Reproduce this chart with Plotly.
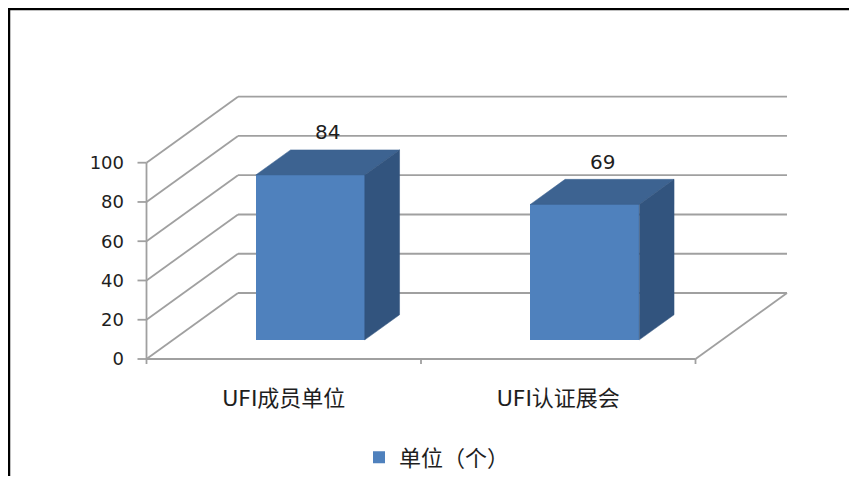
import plotly.graph_objects as go

# ---------------- data ----------------
CATEGORIES = ["UFI成员单位", "UFI认证展会"]
VALUES = [84, 69]
SERIES_NAME = "单位（个）"
Y_TICKS = [0, 20, 40, 60, 80, 100]
LABELS = ["84", "69"]

# ---------------- geometry / style ----------------
# the page body has an 8px margin, so the figure is sized to fit the window exactly
OFF = 8
W, H = 857 - 2 * OFF, 484 - 2 * OFF
ML, MT = 137 - OFF, 95 - OFF
PW, PH = 653, 270
MR, MB = W - ML - PW, H - MT - PH
CAT_PX = 274.5          # px per category on the front plane
PXU = 1.963             # px per value unit
DX = 91.5 / CAT_PX      # depth offset in x units
DY = 66.0 / PXU         # depth offset in y units
F1, F2 = 0.29, 0.67     # bar front / back depth fractions
FM = (F1 + F2) / 2
BAR_W = 0.397
FRONT_X0 = 146.5 - OFF  # px of x=-0.5 (front axis)
FRONT_Y0 = 359.0 - OFF  # px of y=0 (front)

x0 = -0.5 - (FRONT_X0 - ML) / CAT_PX
x1 = x0 + PW / CAT_PX
y0 = -((H - MB) - FRONT_Y0) / PXU
y1 = y0 + PH / PXU

FRONT = "#4F81BD"
TOP = "#3D6391"
SIDE = "#32547E"
GRID = "#A0A0A0"
FONT = "DejaVu Sans, Noto Sans CJK SC, sans-serif"
TXT = "#1E1E1E"

fig = go.Figure()

# front faces as real bars
fig.add_trace(go.Bar(
    x=[i + F1 * DX for i in range(len(VALUES))],
    y=VALUES,
    base=[F1 * DY] * len(VALUES),
    width=BAR_W,
    marker=dict(color=FRONT, line=dict(width=0)),
    name=SERIES_NAME,
    showlegend=True,
    hoverinfo="skip",
))

dd_x = (F2 - F1) * DX
dd_y = (F2 - F1) * DY
for i, v in enumerate(VALUES):
    cx = i + F1 * DX
    xl, xr = cx - BAR_W / 2, cx + BAR_W / 2
    base = F1 * DY
    top = base + v
    # top face
    fig.add_trace(go.Scatter(
        x=[xl, xr, xr + dd_x, xl + dd_x, xl],
        y=[top, top, top + dd_y, top + dd_y, top],
        fill="toself", fillcolor=TOP, mode="lines",
        line=dict(color=TOP, width=0.5), showlegend=False, hoverinfo="skip"))
    # side face
    fig.add_trace(go.Scatter(
        x=[xr, xr + dd_x, xr + dd_x, xr, xr],
        y=[base, base + dd_y, top + dd_y, top, base],
        fill="toself", fillcolor=SIDE, mode="lines",
        line=dict(color=SIDE, width=0.5), showlegend=False, hoverinfo="skip"))

shapes = []
def seg(xa, ya, xb, yb, color=GRID, width=1.8):
    shapes.append(dict(type="line", xref="x", yref="y", x0=xa, y0=ya, x1=xb, y1=yb,
                       line=dict(color=color, width=width), layer="below"))

left = -0.5
right = -0.5 + len(CATEGORIES)
for v in Y_TICKS:
    seg(left + DX, v + DY, right + DX, v + DY)        # back wall gridline
    seg(left, v, left + DX, v + DY)                   # side wall diagonal
    seg(left - 9 / CAT_PX, v, left, v)                # y tick mark
seg(right, 0, right + DX, DY)                         # floor right edge
seg(left, 0, right, 0)                                # floor front edge
seg(left, 0, left, Y_TICKS[-1])                       # y axis line
for b in range(len(CATEGORIES) + 1):
    seg(left + b, 0, left + b, -5 / PXU)              # x tick marks

# outer frame (top and left)
def px2paper_x(px):
    return (px - OFF - ML) / PW
def px2paper_y(py):
    return ((H - MB) - (py - OFF)) / PH
shapes.append(dict(type="line", xref="paper", yref="paper",
                   x0=px2paper_x(8), y0=px2paper_y(9), x1=px2paper_x(860), y1=px2paper_y(9),
                   line=dict(color="black", width=2.5)))
shapes.append(dict(type="line", xref="paper", yref="paper",
                   x0=px2paper_x(9), y0=px2paper_y(8), x1=px2paper_x(9), y1=px2paper_y(490),
                   line=dict(color="black", width=2.5)))

annotations = []
for i, v in enumerate(VALUES):
    annotations.append(dict(
        x=i + FM * DX, y=v + FM * DY, xref="x", yref="y",
        text=LABELS[i], showarrow=False, yanchor="bottom", yshift=16,
        font=dict(family=FONT, size=20, color=TXT)))

fig.update_layout(
    width=W, height=H,
    margin=dict(l=ML, r=MR, t=MT, b=MB, pad=0, autoexpand=False),
    paper_bgcolor="white", plot_bgcolor="white",
    shapes=shapes, annotations=annotations,
    showlegend=True,
    legend=dict(orientation="h", x=px2paper_x(373 - 14), xanchor="left",
                y=px2paper_y(457.5), yanchor="middle",
                font=dict(family=FONT, size=22, color=TXT),
                bgcolor="rgba(0,0,0,0)"),
    xaxis=dict(range=[x0, x1], tickvals=list(range(len(CATEGORIES))), ticktext=CATEGORIES,
               showgrid=False, zeroline=False, showline=False, ticks="",
               ticklabelstandoff=18,
               tickfont=dict(family=FONT, size=22, color=TXT), fixedrange=True),
    yaxis=dict(range=[y0, y1], tickvals=Y_TICKS, showgrid=False, zeroline=False,
               showline=False, ticks="", ticklabelstandoff=12,
               tickfont=dict(family=FONT, size=18, color=TXT), fixedrange=True),
    bargap=0,
)

fig.write_html("out.html")
